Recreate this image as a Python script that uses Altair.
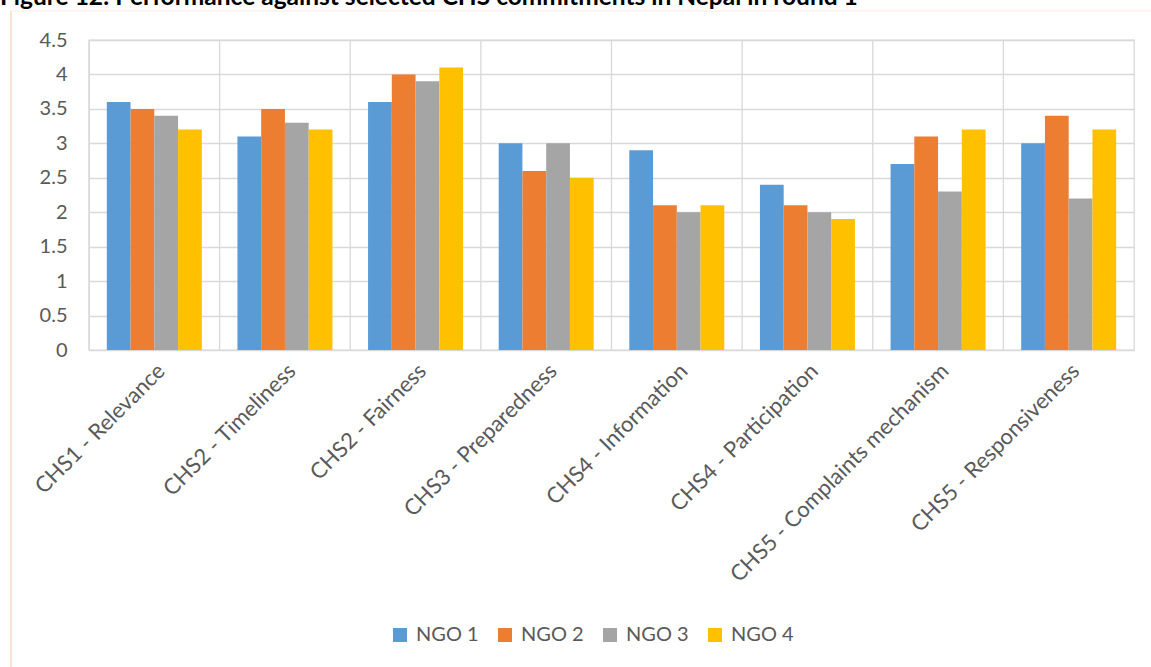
import altair as alt
import pandas as pd

# Commitment categories (x axis) and scores for each NGO
categories = [
    "CHS1 - Relevance",
    "CHS2 - Timeliness",
    "CHS2 - Fairness",
    "CHS3 - Preparedness",
    "CHS4 - Information",
    "CHS4 - Participation",
    "CHS5 - Complaints mechanism",
    "CHS5 - Responsiveness",
]
ngo_1 = [3.6, 3.1, 3.6, 3.0, 2.9, 2.4, 2.7, 3.0]
ngo_2 = [3.5, 3.5, 4.0, 2.6, 2.1, 2.1, 3.1, 3.4]
ngo_3 = [3.4, 3.3, 3.9, 3.0, 2.0, 2.0, 2.3, 2.2]
ngo_4 = [3.2, 3.2, 4.1, 2.5, 2.1, 1.9, 3.2, 3.2]
series_names = ["NGO 1", "NGO 2", "NGO 3", "NGO 4"]
series_colors = ["#5B9BD5", "#ED7D31", "#A5A5A5", "#FFC000"]
y_ticks = [0, 0.5, 1, 1.5, 2, 2.5, 3, 3.5, 4, 4.5]
title_text = "Figure 12: Performance against selected CHS commitments in Nepal in round 1"

rows = []
for name, values in zip(series_names, [ngo_1, ngo_2, ngo_3, ngo_4]):
    for cat, v in zip(categories, values):
        rows.append({"category": cat, "series": name, "score": v})
df = pd.DataFrame(rows)
cat_df = pd.DataFrame({"category": categories})
one = pd.DataFrame({"t": [title_text]})

GRID = "#D9D9D9"
TEXT = "#595959"
FONT = "Lato"

x_enc = alt.X(
    "category:N",
    sort=categories,
    scale=alt.Scale(paddingInner=0, paddingOuter=0),
    axis=alt.Axis(
        title=None,
        labelAngle=-45,
        labelAlign="right",
        labelBaseline="top",
        labelPadding=10,
        ticks=False,
        domain=False,
        grid=False,
        labelFont=FONT,
        labelFontSize=22,
        labelColor=TEXT,
        labelLimit=400,
    ),
)

bars = alt.Chart(df).mark_bar().encode(
    x=x_enc,
    xOffset=alt.XOffset(
        "series:N",
        sort=series_names,
        scale=alt.Scale(paddingInner=0, paddingOuter=0.75),
    ),
    y=alt.Y(
        "score:Q",
        scale=alt.Scale(domain=[0, 4.5], nice=False),
        axis=alt.Axis(
            title=None,
            values=y_ticks,
            format=".1~f",
            ticks=False,
            domain=False,
            gridColor=GRID,
            gridWidth=1.3,
            labelFont=FONT,
            labelFontSize=20,
            labelColor=TEXT,
            labelPadding=22,
        ),
    ),
    color=alt.Color(
        "series:N",
        sort=series_names,
        scale=alt.Scale(domain=series_names, range=series_colors),
        legend=alt.Legend(
            title=None,
            orient="none",
            direction="horizontal",
            legendX=301,
            legendY=585,
            symbolType="square",
            symbolSize=196,
            symbolStrokeWidth=0,
            labelFont=FONT,
            labelFontSize=20,
            labelColor=TEXT,
            labelOffset=6,
            columnPadding=16,
        ),
    ),
)

# Vertical separators between categories
separators = alt.Chart(cat_df).mark_rule(color=GRID, strokeWidth=1.3).encode(
    x=alt.X("category:N", sort=categories, bandPosition=0),
)

# Outer frame of the figure (thin peach border on left and top)
frame_left = alt.Chart(one).mark_rule(color="#FBE3D4", strokeWidth=2).encode(
    x=alt.value(-78), y=alt.value(-29), y2=alt.value(640)
)
frame_top = alt.Chart(one).mark_rule(color="#FBEAE0", strokeWidth=1).encode(
    x=alt.value(-79), x2=alt.value(1070), y=alt.value(-29)
)

title = alt.Chart(one).mark_text(
    align="left",
    baseline="alphabetic",
    font=FONT,
    fontSize=24.5,
    fontWeight="bold",
    color="#000000",
).encode(text="t:N", x=alt.value(-89), y=alt.value(-35))

chart = (
    alt.layer(separators, bars, frame_left, frame_top, title)
    .properties(
        width=1045,
        height=310,
        autosize=alt.AutoSizeParams(type="none"),
        padding={"left": 89, "top": 40, "right": 17, "bottom": 317},
        background="#FFFFFF",
    )
    .configure_view(stroke=GRID, strokeWidth=1.3)
)

chart.save("out.html", embed_options={"renderer": "svg", "actions": False})
